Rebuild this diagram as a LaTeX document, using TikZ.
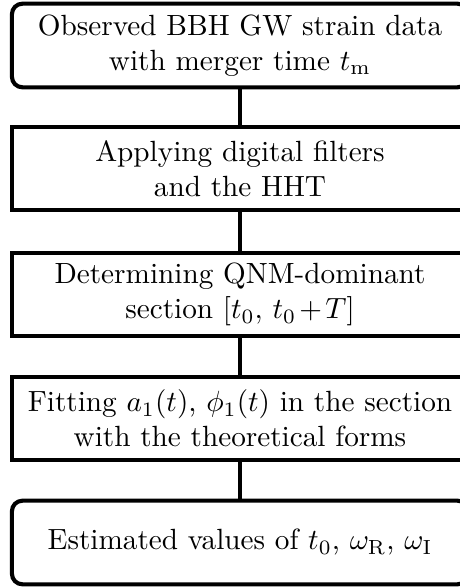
\documentclass[tikz,border=0pt]{standalone}
\usepackage{amsmath}
\begin{document}
\begin{tikzpicture}[x=0.342pt,y=-0.342pt,
  flowbox/.style={draw,line width=1.4pt,minimum width=156pt,minimum height=28.6pt,
    align=center,inner sep=0pt,text width=150pt},
  termbox/.style={flowbox,rounded corners=3.6pt},
  link/.style={line width=1.25pt}]
\useasboundingbox (0,0) rectangle (459,587);
\node[termbox] (obs) at (240,45.5) {Observed BBH GW strain data\\ with merger time $t_\mathrm{m}$};
\node[flowbox] (hht) at (240,168.5) {Applying digital filters\\ and the HHT};
\node[flowbox] (qnm) at (240,294.5) {Determining QNM-dominant\\ section $[t_0,\, t_0\mkern2mu{+}\mkern2mu T]$};
\node[flowbox] (fit) at (240,418.5) {Fitting $a_1(t)$, $\phi_1(t)$ in the section\\ with the theoretical forms};
\node[termbox] (est) at (240,542.5) {Estimated values of $t_0$, $\omega_\mathrm{R}$, $\omega_\mathrm{I}$};
\draw[link] (obs) -- (hht);
\draw[link] (hht) -- (qnm);
\draw[link] (qnm) -- (fit);
\draw[link] (fit) -- (est);
\end{tikzpicture}
\end{document}
